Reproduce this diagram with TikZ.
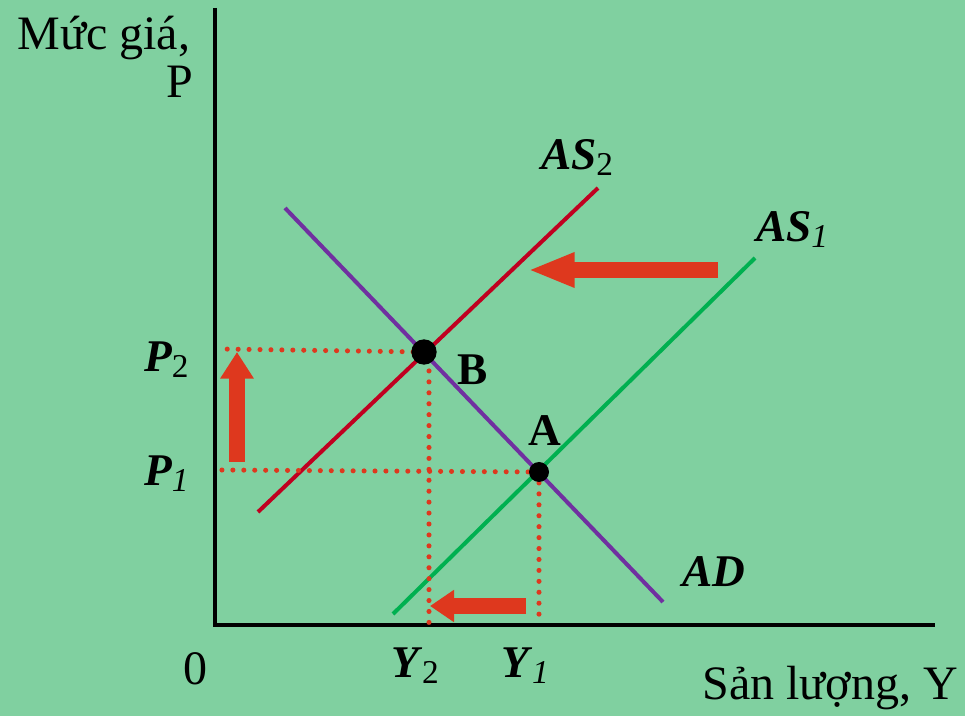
\documentclass[tikz,border=0pt]{standalone}
\usepackage{fontspec}
\setmainfont{Liberation Serif}
\usetikzlibrary{arrows.meta,positioning}
\definecolor{bggreen}{RGB}{128,208,160}
\definecolor{asred}{RGB}{192,0,32}
\definecolor{asgreen}{RGB}{0,176,80}
\definecolor{adpurple}{RGB}{112,48,160}
\definecolor{shiftred}{RGB}{222,56,30}
\newcommand{\lab}[2]{\textbf{\textit{#1}}{\fontsize{25}{25}\selectfont\raisebox{-0.35ex}{#2}}}

\begin{document}
\begin{tikzpicture}[x=0.75pt, y=-0.75pt,
    every node/.style={inner sep=0pt, outer sep=0pt},
    txt/.style={font=\fontsize{36}{36}\selectfont},
    bigtxt/.style={font=\fontsize{34}{34}\selectfont},
    axis/.style={line width=3pt, black},
    curve/.style={line width=3pt},
    guide/.style={shiftred, line width=3.8pt, line cap=round, dash pattern=on 0pt off 8.2pt},
    eqpt/.style={circle, fill=black},
    shiftarr/.style={shiftred, line width=12pt}]

    \fill[bggreen] (0,0) rectangle (965,716);
    \useasboundingbox (0,0) rectangle (965,716);

    % axes
    \coordinate (origin) at (215,625);
    \coordinate (ytop) at (215,8);
    \coordinate (xend) at (935,625);
    \draw[axis] (ytop) -- (origin) -- (xend);

    % curves
    \coordinate (as2a) at (258,512);
    \coordinate (as2b) at (598,188);
    \coordinate (as1a) at (393,614);
    \coordinate (as1b) at (755,258);
    \coordinate (ada) at (285,208);
    \coordinate (adb) at (663,602);
    \draw[curve, asred] (as2a) -- (as2b);
    \draw[curve, asgreen] (as1a) -- (as1b);
    \draw[curve, adpurple] (ada) -- (adb);

    % guides
    \coordinate (eqB) at (424,352);
    \coordinate (eqA) at (539,472);
    \coordinate (p2) at (220,349);
    \coordinate (p1) at (220,470);
    \coordinate (y2top) at (429,360);
    \coordinate (y2) at (429,625);
    \coordinate (y1) at (539,625);
    \draw[guide] (eqB) -- (p2);
    \draw[guide] (eqA) -- (p1);
    \draw[guide] (y2top) -- (y2);
    \draw[guide] (eqA) -- (y1);

    % equilibria
    \node[eqpt, minimum size=19pt] (B) at (eqB) {};
    \node[eqpt, minimum size=15pt] (A) at (eqA) {};

    % shifts
    \coordinate (topfrom) at (718,270);
    \coordinate (topto) at (528,270);
    \coordinate (upfrom) at (237,462);
    \coordinate (upto) at (237,352);
    \coordinate (lowfrom) at (526,606);
    \coordinate (lowto) at (430,606);
    \draw[shiftarr, -{Triangle[length=35pt, width=24pt]}] (topfrom) -- (topto);
    \draw[shiftarr, -{Triangle[length=20pt, width=24pt]}] (upfrom) -- (upto);
    \draw[shiftarr, -{Triangle[length=18pt, width=23pt]}] (lowfrom) -- (lowto);

    % labels
    \node[txt, anchor=base east] (ylab) at (190,50) {Mức giá,};
    \node[txt, anchor=base east] (plab) at (193,98) {P};
    \node[txt, anchor=base east] (xlab) at (958,700) {Sản lượng, Y};
    \node[txt, anchor=base west] (zero) at (183,685) {0};
    \node[bigtxt, anchor=base west] (as2lab) at (541,170) {\lab{AS}{2}};
    \node[bigtxt, anchor=base west] (as1lab) at (756,242) {\lab{AS}{\textit{1}}};
    \node[bigtxt, anchor=base west] (adlab) at (682,587) {\textbf{\textit{AD}}};
    \node[bigtxt, anchor=base west] (blab) at (457,385) {\textbf{B}};
    \node[bigtxt, anchor=base west] (alab) at (528,446) {\textbf{A}};
    \node[bigtxt, anchor=base west] (p2lab) at (144,372) {\lab{P}{2}};
    \node[bigtxt, anchor=base west] (p1lab) at (144,486) {\lab{P}{\textit{1}}};
    \node[bigtxt, anchor=base west] (y2lab) at (391,678) {\lab{Y}{2}};
    \node[bigtxt, anchor=base west] (y1lab) at (501,678) {\lab{Y}{\textit{1}}};
\end{tikzpicture}
\end{document}
